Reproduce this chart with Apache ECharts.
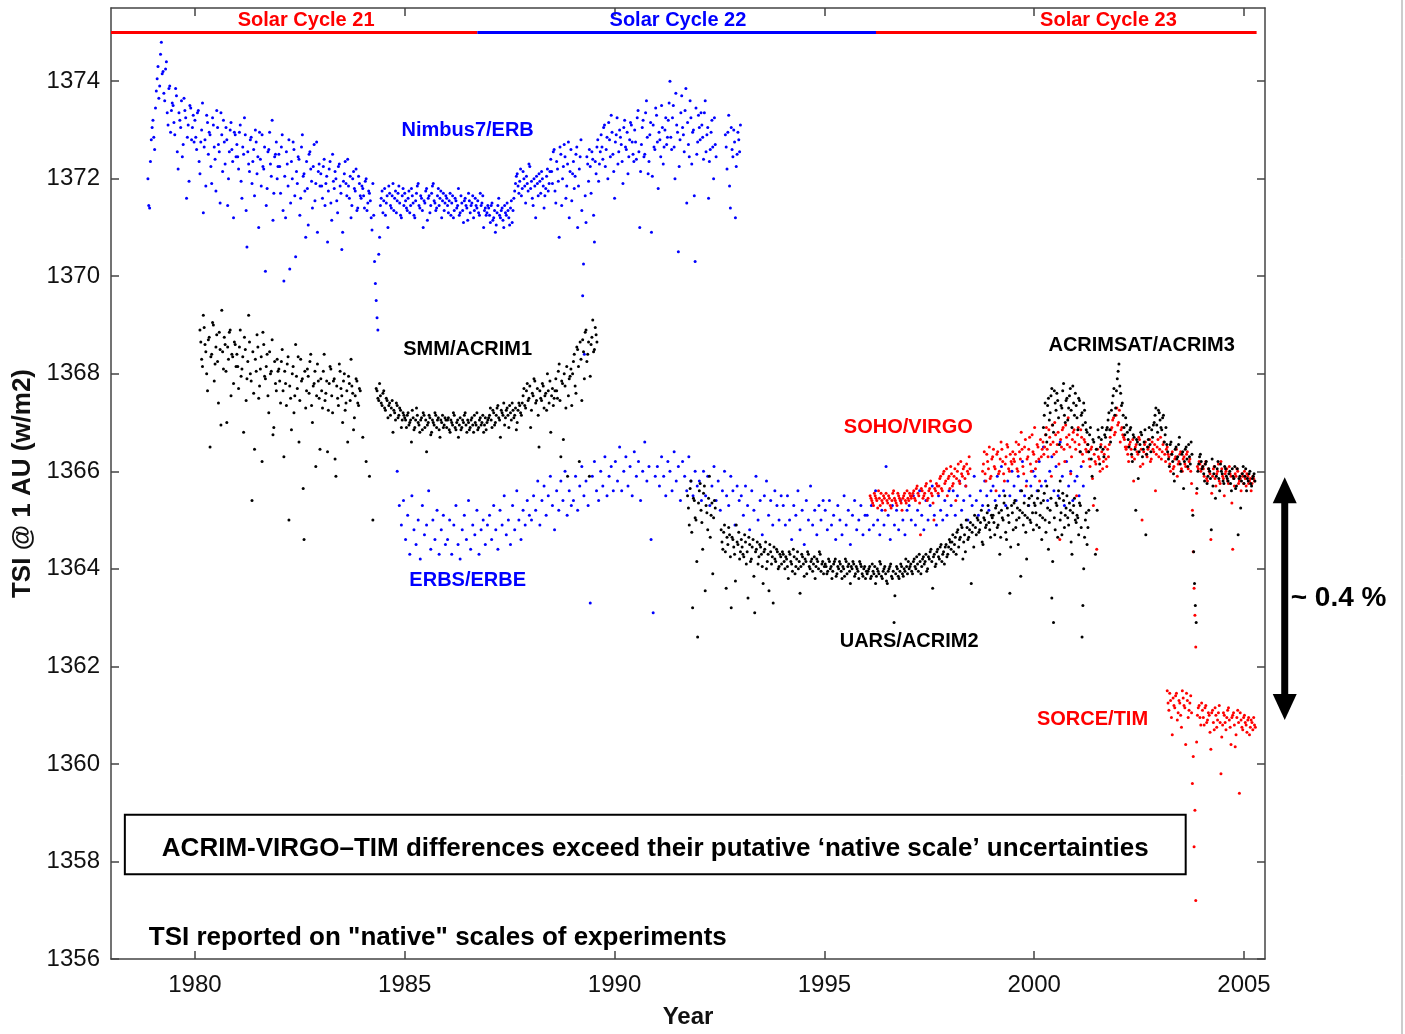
<!DOCTYPE html>
<html>
<head>
<meta charset="utf-8">
<title>TSI reported on native scales</title>
<script src="https://cdn.jsdelivr.net/npm/echarts@6/dist/echarts.min.js"></script>
<style>
  html, body { margin: 0; padding: 0; background: #fff; }
  #chart { width: 1405px; height: 1034px; }
</style>
</head>
<body>
<div id="chart"></div>
<script>
// axis ticks
const yearTicks = [1980, 1985, 1990, 1995, 2000, 2005];
const tsiTicks = [1356, 1358, 1360, 1362, 1364, 1366, 1368, 1370, 1372, 1374];

// every record: first sample year, sample step in years, readings in W/m2 (null = no data).
// the *Mid arrays are the readings taken half a step after each main reading.
const nimbusStart = 1978.88, nimbusStep = 0.04;
const nimbus = [
  1372.0, 1371.4, 1372.8,
  1373.2, 1372.6, 1373.8, 1374.3, 1373.9, 1374.8, 1374.2, 1373.6, 1374.4, 1373.1, 1373.9, 1373.4,
  1373.5, 1372.9, 1373.7, 1372.2, 1373.2, 1373.6, 1372.7, 1373.4, 1371.6, 1373.1, 1373.5, 1372.8, 1373.3,
  1373.2, 1372.6, 1373.4, 1372.1, 1373.0, 1371.3, 1372.8, 1373.3, 1372.5, 1372.9, 1371.9, 1373.1, 1372.4, 1373.4, 1372.7, 1371.5, 1372.9, 1373.2, 1372.3, 1372.8, 1372.0, 1373.0, 1372.6, 1371.2, 1372.9,
  1372.7, 1372.2, 1373.1, 1371.6, 1372.5, 1372.9, 1370.6, 1372.3, 1372.8, 1371.9, 1372.6, 1373.0, 1372.1, 1371.0, 1372.4, 1372.9, 1372.2, 1370.1, 1371.8, 1372.6, 1372.3, 1373.2, 1371.7, 1372.5, 1372.0,
  1372.5, 1371.7, 1372.9, 1369.9, 1371.2, 1372.3, 1372.8, 1371.5, 1372.0, 1372.6, 1370.4, 1371.9, 1372.4, 1371.6, 1372.9, 1372.1, 1370.8, 1371.8, 1372.5, 1372.2, 1371.4, 1372.7, 1371.9, 1370.9, 1372.3,
  1372.1, 1371.6, 1372.4, 1371.9, 1370.7, 1372.2, 1371.5, 1372.5, 1371.8, 1372.0, 1371.3, 1372.3, 1371.7, 1370.9, 1372.1, 1371.9, 1372.4, 1371.6, 1371.2, 1372.0, 1371.8, 1372.2, 1371.4, 1371.9, 1371.6,
  1371.8, 1371.4, 1372.0, 1371.5, 1371.7, 1371.2, 1371.9, 1370.3, 1369.5, 1368.9, 1370.8, 1371.6, 1371.3, 1371.8, 1371.5, 1371.0, 1371.7, 1371.4, 1371.9, 1371.6, 1371.3, 1371.7, 1371.5, 1371.2, 1371.8,
  1371.7, 1371.4, 1371.6, 1371.3, 1371.8, 1371.5, 1371.2, 1371.7, 1371.9, 1371.4, 1371.6, 1371.0, 1371.5, 1371.8, 1371.6, 1371.3, 1371.7, 1371.9, 1371.5, 1371.4, 1371.8, 1371.6, 1371.2, 1371.7, 1371.5,
  1371.6, 1371.3, 1371.7, 1371.5, 1371.2, 1371.6, 1371.4, 1371.8, 1371.3, 1371.5, 1371.1, 1371.6, 1371.4, 1371.7, 1371.3, 1371.5, 1371.2, 1371.6, 1371.4, 1371.3, 1371.7, 1371.5, 1371.0, 1371.4, 1371.3,
  1371.4, 1371.1, 1371.5, 1371.2, 1370.9, 1371.3, 1371.6, 1371.2, 1371.4, 1371.0, 1371.3, 1371.5, 1371.2, 1371.4, 1371.1,
  1371.6, 1371.9, 1372.1, 1371.7, 1372.2, 1371.8, 1372.0, 1371.5, 1371.9, 1372.3, 1371.8, 1371.6, 1372.0, 1371.2, 1371.9, 1372.1, 1371.7, 1372.0, 1371.4, 1371.8, 1372.2, 1371.9,
  1372.4, 1371.9, 1372.6, 1371.5, 1372.2, 1370.8, 1372.5, 1372.0, 1372.7, 1371.6, 1372.3, 1371.2, 1372.6, 1372.1, 1371.8, 1372.5, 1371.0, 1372.2, 1372.8, 1369.6, 1368.4, 1371.1, 1372.3, 1372.6, 1371.7, 1372.4, 1370.7, 1372.1, 1372.8, 1372.3,
  1372.9, 1372.4, 1373.1, 1372.6, 1372.0, 1372.8, 1373.3, 1372.5, 1371.6, 1372.9, 1372.3, 1373.0, 1372.7, 1371.9, 1373.2, 1372.6, 1372.1, 1372.8, 1373.1, 1372.5,
  1373.0, 1372.4, 1373.4, 1371.0, 1372.7, 1373.2, 1372.5, 1373.6, 1372.1, 1372.9, 1370.9, 1373.1, 1372.6, 1373.3, 1371.8, 1372.8, 1373.5, 1372.3, 1373.0, 1372.7,
  1373.2, 1374.0, 1372.6, 1373.5, 1372.0, 1373.1, 1370.5, 1372.8, 1373.7, 1372.9, 1373.4, 1371.5, 1372.7, 1373.6, 1372.3, 1373.0, 1370.3, 1372.5, 1373.3, 1372.8,
  1373.1, 1372.4, 1373.6, 1372.9, 1371.6, 1372.6, 1373.2, 1372.0, 1372.7,
  null, null, null, null, null,
  1372.9, 1372.2, 1373.3, 1371.4, 1372.6, 1373.0, 1371.2, 1372.5, 1372.8, 1373.1
];
const nimbusMid = [
  1371.45, 1372.35, 1373.05,
  1372.85, 1373.45, 1374.05, 1373.65, 1374.55, 1374.15, 1373.75, 1374.25, 1373.35, 1373.85, 1372.95, 1373.55,
  1373.15, 1373.85, 1372.55, 1373.35, 1373.05, 1372.45, 1373.65, 1373.25, 1372.85, 1371.95, 1373.45, 1373.05, 1372.75,
  1372.85, 1373.35, 1372.35, 1372.75, 1373.55, 1372.65, 1371.85, 1373.15, 1372.95, 1372.25, 1373.25, 1372.65, 1371.75, 1373.05, 1372.55, 1373.35, 1372.15, 1372.75, 1373.05, 1371.45, 1372.55, 1373.15, 1372.35, 1372.95, 1372.45,
  1372.45, 1372.95, 1371.95, 1372.65, 1373.25, 1371.35, 1372.55, 1372.15, 1372.85, 1372.35, 1371.65, 1372.75, 1372.45, 1372.95, 1371.85, 1372.25, 1372.65, 1371.45, 1372.55, 1372.95, 1372.05, 1371.15, 1372.45, 1372.75, 1372.25,
  1372.25, 1372.65, 1371.35, 1372.05, 1372.55, 1371.85, 1370.15, 1372.35, 1372.75, 1371.65, 1372.15, 1372.45, 1371.25, 1372.65, 1372.05, 1371.75, 1372.35, 1371.05, 1372.55, 1371.95, 1372.25, 1371.55, 1372.75, 1372.15, 1371.85,
  1371.85, 1372.25, 1371.45, 1372.05, 1371.75, 1372.35, 1371.15, 1371.95, 1372.15, 1371.55, 1372.25, 1371.85, 1370.55, 1371.95, 1372.35, 1371.65, 1371.85, 1372.05, 1371.45, 1372.15, 1371.75, 1371.35, 1372.05, 1371.65, 1371.85,
  1371.65, 1371.95, 1371.35, 1371.75, 1371.55, 1370.95, 1371.25, 1369.85, 1369.15, 1370.45, 1371.45, 1371.75, 1371.55, 1371.25, 1371.65, 1371.85, 1371.45, 1371.65, 1371.35, 1371.75, 1371.55, 1371.85, 1371.25, 1371.65, 1371.45,
  1371.55, 1371.35, 1371.75, 1371.45, 1371.65, 1371.25, 1371.55, 1371.85, 1371.45, 1371.65, 1371.35, 1371.55, 1371.75, 1371.15, 1371.65, 1371.45, 1371.85, 1371.55, 1371.35, 1371.65, 1371.45, 1371.75, 1371.55, 1371.35, 1371.65,
  1371.45, 1371.55, 1371.25, 1371.65, 1371.35, 1371.55, 1371.45, 1371.25, 1371.65, 1371.35, 1371.55, 1371.45, 1371.15, 1371.55, 1371.45, 1371.65, 1371.35, 1371.45, 1371.55, 1371.25, 1371.45, 1371.65, 1371.35, 1371.25, 1371.45,
  1371.25, 1371.45, 1371.15, 1371.35, 1371.05, 1371.45, 1371.25, 1371.35, 1371.15, 1371.45, 1371.25, 1371.35, 1371.05, 1371.55, 1371.35,
  1371.75, 1372.05, 1371.85, 1371.95, 1371.65, 1372.15, 1371.85, 1372.05, 1371.75, 1372.25, 1371.95, 1371.45, 1371.85, 1372.05, 1371.65, 1371.95, 1372.15, 1371.85, 1371.65, 1372.05, 1371.75, 1372.15,
  1372.15, 1372.55, 1371.75, 1372.35, 1371.95, 1372.65, 1371.45, 1372.25, 1372.45, 1371.85, 1372.75, 1372.15, 1371.55, 1372.35, 1372.05, 1372.65, 1371.85, 1372.45, 1371.35, 1370.25, 1371.65, 1372.45, 1371.95, 1372.25, 1372.55, 1371.25, 1372.35, 1372.65, 1371.95, 1372.55,
  1372.65, 1373.05, 1372.25, 1372.85, 1373.15, 1372.45, 1372.95, 1372.15, 1372.75, 1373.25, 1372.55, 1372.85, 1372.35, 1373.05, 1372.65, 1372.95, 1372.45, 1373.15, 1372.75, 1372.35,
  1372.75, 1373.25, 1372.55, 1372.15, 1373.05, 1372.45, 1373.35, 1372.85, 1372.35, 1373.15, 1372.05, 1372.65, 1373.45, 1372.75, 1372.95, 1372.45, 1373.05, 1372.65, 1373.25, 1372.85,
  1373.55, 1372.85, 1373.25, 1372.65, 1373.75, 1372.95, 1372.25, 1373.35, 1373.05, 1372.55, 1373.85, 1373.15, 1372.45, 1373.25, 1372.95, 1371.65, 1373.45, 1372.75, 1373.05, 1373.35,
  1372.85, 1373.35, 1372.55, 1373.05, 1372.35, 1372.95, 1372.65, 1373.25, 1372.45,
  null, null, null, null, null,
  1372.65, 1372.95, 1371.85, 1373.05, 1372.45, 1372.75, 1372.25, 1372.95, 1372.55, null
];

const erbsStart = 1984.82, erbsStep = 0.05;
const erbs = [
  1366.0, 1365.3, 1364.9, 1365.4, 1364.6, 1365.1, 1364.3, 1365.5, 1364.8, 1364.5, 1365.0, 1364.2, 1365.3, 1364.7, 1364.9, 1365.6, 1364.4, 1365.0, 1364.6, 1365.2, 1364.3, 1364.8, 1365.1, 1364.5,
  1364.6, 1365.0, 1364.3, 1364.9, 1365.3, 1364.5, 1364.2, 1364.8, 1365.1, 1364.6, 1365.4, 1364.4, 1364.9, 1364.7, 1365.2, 1364.3, 1364.8, 1365.0, 1364.5, 1364.9,
  1365.1, 1364.6, 1365.3, 1364.8, 1364.4, 1365.2, 1364.9, 1365.5, 1364.7, 1365.0, 1364.5, 1365.3, 1364.8, 1365.6, 1365.0, 1364.6, 1365.2, 1364.9, 1365.4, 1365.1,
  1365.0, 1365.5, 1365.2, 1365.8, 1364.9, 1365.4, 1365.7, 1365.1, 1365.5, 1365.9, 1365.3, 1364.8, 1365.6, 1365.2, 1365.8, 1365.4, 1366.0, 1365.1, 1365.6, 1365.3,
  1365.4, 1365.9, 1365.2, 1365.7, 1366.1, 1365.5, 1365.8, 1365.3, 1363.3, 1365.9, 1366.2, 1365.6, 1365.4, 1366.0, 1365.7, 1366.3, 1365.5, 1365.9, 1366.1, 1365.6,
  1366.2, 1365.8, 1366.5, 1365.6, 1366.0, 1366.3, 1365.7, 1366.1, 1365.5, 1366.4, 1365.9, 1366.2, 1365.4, 1366.0, 1366.6, 1365.8, 1366.1, 1364.6, 1363.1, 1365.9,
  1366.1, 1365.7, 1366.3, 1365.9, 1365.5, 1366.2, 1366.0, 1365.6, 1366.4, 1365.8, 1366.1, 1365.4, 1366.2, 1365.9, 1365.6, 1366.3, 1365.8, 1365.5, 1366.0, 1365.7,
  1365.8, 1365.4, 1366.0, 1365.5, 1365.9, 1365.3, 1365.7, 1366.1, 1365.4, 1365.8, 1365.2, 1365.6, 1366.0, 1365.5, 1365.3, 1365.9, 1365.6, 1364.9, 1365.7, 1365.4,
  1365.5, 1365.1, 1365.7, 1365.3, 1364.8, 1365.6, 1365.2, 1365.9, 1365.0, 1365.4, 1364.7, 1365.5, 1365.8, 1365.1, 1365.4, 1364.9, 1365.6, 1365.3, 1365.0, 1365.5,
  1365.3, 1364.9, 1365.5, 1365.0, 1364.6, 1365.3, 1365.1, 1365.6, 1364.8, 1365.2, 1364.5, 1365.4, 1365.0, 1365.7, 1364.9, 1365.2, 1364.7, 1365.3, 1365.0, 1365.4,
  1365.2, 1364.8, 1365.4, 1364.9, 1365.1, 1364.6, 1365.3, 1365.0, 1364.7, 1365.5, 1364.9, 1365.2, 1364.5, 1365.1, 1365.4, 1364.8, 1365.0, 1365.3, 1364.7, 1365.1,
  1365.1, 1364.8, 1365.3, 1364.9, 1365.6, 1365.0, 1364.7, 1365.2, 1364.9, 1366.1, 1365.1, 1364.6, 1365.3, 1364.9, 1365.2, 1364.8, 1365.4, 1365.0, 1364.7, 1365.2,
  1365.3, 1365.0, 1365.5, 1364.9, 1365.2, 1365.6, 1365.1, 1364.8, 1365.4, 1365.0, 1365.3, 1365.7, 1365.1, 1364.9, 1365.5, 1365.2, 1365.0, 1365.4, 1365.1, 1365.6,
  1365.3, 1365.6, 1365.1, 1365.5, 1365.8, 1365.2, 1365.4, 1365.7, 1365.0, 1365.5, 1365.3, 1365.9, 1365.4, 1365.1, 1365.6, 1365.3, 1365.8, 1365.5, 1365.2, 1365.6,
  1365.7, 1365.4, 1365.9, 1365.5, 1366.1, 1365.6, 1365.3, 1365.8, 1365.5, 1366.0, 1365.7, 1365.4, 1365.9, 1365.6, 1366.2, 1365.5, 1365.8, 1365.3, 1365.7, 1366.0,
  1365.9, 1365.6, 1366.2, 1365.7, 1366.5, 1365.8, 1365.4, 1366.0, 1366.3, 1365.6, 1366.1, 1365.5, 1366.6, 1365.9, 1365.3, 1366.2, 1365.7, 1366.0, 1365.4, 1365.8,
  1365.9, 1365.5, 1366.1, 1365.7
];

const acrim1Start = 1980.12, acrim1Step = 0.04;
const acrim1 = [
  1368.9, 1368.3, 1369.2, 1368.6, 1368.0, 1368.7, 1366.5, 1368.4, 1369.0, 1368.2, 1368.8, 1367.4, 1368.5, 1369.3, 1368.1, 1368.6, 1367.0, 1368.3, 1368.9, 1368.4, 1367.8, 1368.6,
  1368.4, 1367.7, 1368.9, 1368.1, 1366.8, 1368.5, 1367.9, 1369.2, 1368.0, 1365.4, 1367.6, 1368.3, 1368.8, 1367.5, 1368.1, 1366.2, 1368.6, 1367.9, 1368.4, 1367.2, 1368.0, 1368.7, 1366.9, 1367.8, 1368.3,
  1368.1, 1367.4, 1368.5, 1366.3, 1367.8, 1368.2, 1365.0, 1367.5, 1368.0, 1367.2, 1368.6, 1367.7, 1366.6, 1368.3, 1367.9, 1364.6, 1367.3, 1368.1, 1367.6, 1368.4, 1367.0, 1367.8, 1366.1, 1368.2, 1367.5,
  1367.9, 1367.3, 1368.4, 1367.6, 1366.4, 1367.8, 1368.1, 1367.2, 1367.9, 1365.9, 1367.5, 1368.2, 1367.7, 1367.0, 1368.0, 1367.4, 1366.6, 1367.8, 1368.3, 1367.6, 1367.1, 1367.9, 1367.4, 1367.7,
  null, 1366.7, null, 1366.2, null, 1365.9, null, 1365.0, null,
  1367.7, 1367.5, 1367.8, 1367.4, 1367.6, 1367.3, 1367.5, 1367.1, 1367.4, 1367.3, 1366.8, 1367.2, 1367.4, 1367.1, 1367.3, 1366.9, 1367.2,
  1367.1, 1366.9, 1367.2, 1367.0, 1366.6, 1367.1, 1366.9, 1367.3, 1367.0, 1366.8, 1367.1, 1367.2, 1366.9, 1366.4, 1367.0, 1367.1, 1366.8, 1367.0, 1367.2, 1366.9, 1367.1, 1366.7, 1367.0, 1366.9, 1367.1,
  1366.9, 1367.1, 1366.8, 1367.0, 1367.2, 1366.9, 1367.0, 1366.7, 1367.1, 1366.9, 1367.0, 1367.2, 1366.8, 1367.0, 1366.9, 1367.1, 1366.8, 1367.0, 1367.2, 1366.9, 1367.1, 1367.0, 1366.8, 1367.1, 1367.0,
  1367.1, 1367.3, 1366.9, 1367.2, 1367.0, 1367.3, 1367.1, 1366.7, 1367.2, 1367.4, 1367.1, 1367.3, 1366.9, 1367.2, 1367.4, 1367.1, 1367.3, 1367.0, 1367.4, 1367.2,
  1367.4, 1367.7, 1367.3, 1367.8, 1367.5, 1366.9, 1367.6, 1367.9, 1367.4, 1367.7, 1366.5, 1367.5, 1367.8, 1367.3, 1367.6, 1368.0, 1367.4, 1366.8, 1367.7, 1367.5,
  1367.9, 1367.5, 1368.2, 1366.3, 1367.8, 1368.0, 1367.3, 1365.9, 1367.9, 1368.1,
  1368.0, 1368.4, 1367.6, 1368.5, 1366.2, 1368.3, 1368.7, 1367.9, 1368.9, 1368.4, 1365.9, 1368.6, 1369.1, 1368.5, 1368.8
];
const acrim1Mid = [
  1368.65, 1368.15, 1368.95, 1368.45, 1367.65, 1368.75, 1368.35, 1369.05, 1367.85, 1368.55, 1368.25, 1368.85, 1366.95, 1368.45, 1368.75, 1368.05, 1368.55, 1368.85, 1367.55, 1368.35, 1368.65, 1368.15,
  1368.15, 1368.55, 1367.95, 1368.35, 1368.75, 1367.45, 1368.25, 1368.65, 1367.85, 1368.45, 1366.45, 1368.05, 1368.55, 1367.75, 1368.35, 1368.85, 1367.95, 1368.15, 1367.55, 1368.45, 1368.05, 1366.75, 1368.25, 1367.65, 1368.05,
  1367.85, 1368.25, 1367.65, 1368.05, 1367.35, 1368.35, 1367.75, 1366.85, 1368.15, 1367.55, 1367.95, 1368.35, 1367.45, 1367.85, 1365.65, 1368.05, 1367.65, 1367.95, 1368.25, 1367.35, 1367.75, 1368.05, 1367.55, 1367.85, 1366.45,
  1367.65, 1368.05, 1367.45, 1367.85, 1367.25, 1368.15, 1367.55, 1367.85, 1366.25, 1367.75, 1367.35, 1368.05, 1367.55, 1367.85, 1367.25, 1367.65, 1367.95, 1367.45, 1367.75, 1366.85, 1367.55, 1367.85, 1367.35, 1367.65,
  null, null, null, null, null, null, null, null, null,
  1367.65, 1367.45, 1367.55, 1367.35, 1367.65, 1367.25, 1367.45, 1367.35, 1367.15, 1367.45, 1367.25, 1367.05, 1367.35, 1367.15, 1367.25, 1367.05, 1367.15,
  1367.05, 1367.15, 1366.95, 1367.05, 1367.25, 1366.85, 1367.05, 1367.15, 1366.95, 1367.05, 1366.85, 1367.15, 1367.05, 1366.95, 1367.15, 1366.75, 1367.05, 1366.95, 1367.15, 1367.05, 1366.85, 1367.05, 1367.15, 1366.95, 1367.05,
  1367.05, 1366.85, 1367.05, 1366.95, 1367.15, 1366.85, 1367.05, 1366.95, 1366.85, 1367.05, 1367.15, 1366.95, 1367.05, 1366.85, 1367.05, 1366.95, 1367.15, 1366.95, 1366.85, 1367.05, 1366.95, 1367.15, 1366.95, 1366.85, 1367.05,
  1367.15, 1367.05, 1367.25, 1366.95, 1367.15, 1367.35, 1367.05, 1367.25, 1367.15, 1366.95, 1367.25, 1367.15, 1367.35, 1367.05, 1367.25, 1367.15, 1366.85, 1367.25, 1367.35, 1367.15,
  1367.55, 1367.35, 1367.65, 1367.45, 1367.75, 1367.25, 1367.55, 1367.85, 1367.45, 1367.15, 1367.65, 1367.45, 1367.75, 1367.55, 1367.25, 1367.65, 1367.85, 1367.55, 1367.35, 1367.65,
  1367.65, 1368.05, 1367.45, 1367.85, 1366.65, 1367.75, 1368.15, 1367.55, 1367.95, 1367.35,
  1368.25, 1367.75, 1368.55, 1368.15, 1368.65, 1367.45, 1368.45, 1368.85, 1368.25, 1368.65, 1367.95, 1368.75, 1368.45, 1368.95, 1368.65
];

const acrim2Start = 1991.74, acrim2Step = 0.04;
const acrim2 = [
  1365.5, 1364.9, 1365.8, 1363.2, 1365.4, 1365.0, 1362.6, 1365.6, 1365.2, 1364.4, 1365.7, 1365.3, 1364.8, 1365.9, 1365.1, 1363.9, 1365.4,
  null, null, null,
  1364.8, 1364.4, 1364.9, 1363.6, 1364.5, 1364.7, 1363.2, 1364.6, 1364.3, 1364.9, 1364.5, 1364.2,
  1364.6, 1364.3, 1364.7, 1364.1, 1363.4, 1364.5, 1364.2, 1364.6, 1363.1, 1364.4, 1364.1, 1364.5, 1364.3, 1363.7, 1364.4, 1364.0, 1364.3, 1364.5, 1364.1, 1363.3, 1364.2, 1364.4, 1364.0, 1364.3, 1364.1,
  1364.3, 1364.0, 1364.2, 1363.8, 1364.3, 1364.1, 1364.4, 1363.9, 1364.2, 1364.0, 1363.5, 1364.3, 1364.1, 1364.2, 1363.9, 1364.3, 1364.0, 1364.2, 1364.1, 1363.8, 1364.2, 1364.0, 1364.3, 1364.1, 1363.9,
  1364.1, 1363.9, 1364.2, 1364.0, 1363.8, 1364.1, 1364.2, 1363.9, 1364.0, 1364.1, 1363.8, 1364.0, 1364.2, 1363.9, 1364.1, 1363.7, 1364.0, 1364.1, 1363.9, 1364.0, 1363.8, 1364.1, 1363.9, 1364.0, 1363.8,
  1363.9, 1364.0, 1363.8, 1364.1, 1363.9, 1363.7, 1364.0, 1363.9, 1364.1, 1363.8, 1364.0, 1363.9, 1363.7, 1364.0, 1364.1, 1363.8, 1362.9, 1363.9, 1364.0, 1363.8, 1364.1, 1363.9, 1364.0, 1364.2, 1363.9,
  1364.0, 1364.1, 1363.9, 1364.2, 1364.0, 1364.1, 1364.3, 1363.9, 1364.2, 1364.1, 1364.3, 1364.0, 1364.2, 1364.4, 1363.6, 1364.3, 1364.1, 1364.4, 1364.2, 1364.5, 1364.3, 1364.1, 1364.5, 1364.3, 1364.6,
  1364.4, 1364.7, 1364.5, 1364.3, 1364.8, 1364.6, 1364.9, 1364.2, 1364.7, 1365.0, 1364.6, 1364.8, 1363.7, 1364.9, 1365.1, 1364.7, 1365.0, 1364.8, 1365.2, 1364.5, 1365.0, 1364.9, 1365.3, 1364.8, 1365.1,
  1365.1, 1364.7, 1365.3, 1364.9, 1364.3, 1365.2, 1365.0, 1365.5, 1364.6, 1365.1, 1363.5, 1365.3, 1364.8, 1365.4, 1365.0, 1364.5, 1365.2, 1365.6, 1364.9, 1365.1, 1364.2, 1365.3, 1365.0, 1365.5, 1364.8,
  1365.3, 1364.9, 1365.6, 1365.1, 1364.6, 1365.4, 1365.0, 1365.7, 1364.4, 1365.2, 1363.4, 1362.9, 1364.8, 1365.3, 1365.6, 1365.0, 1364.7, 1365.4, 1365.1, 1365.5, 1364.9, 1365.2, 1364.3, 1365.3, 1365.0,
  1365.1, 1364.7, 1365.3, 1362.6, 1364.0, 1365.0, 1364.5, 1365.2
];
const acrim2Mid = [
  1365.25, 1365.65, 1364.75, 1365.45, 1365.05, 1364.15, 1365.35, 1365.75, 1364.95, 1365.55, 1363.55, 1365.15, 1365.45, 1364.65, 1365.35, 1365.05, 1365.25,
  null, null, null,
  1364.55, 1364.75, 1364.35, 1364.65, 1364.85, 1364.25, 1364.65, 1364.45, 1363.75, 1364.55, 1364.75, 1364.35,
  1364.45, 1364.25, 1364.55, 1364.35, 1364.65, 1364.15, 1364.45, 1363.85, 1364.35, 1364.55, 1364.25, 1364.45, 1364.05, 1364.35, 1364.55, 1364.15, 1363.55, 1364.35, 1364.25, 1364.45, 1364.15, 1364.35, 1364.05, 1364.25, 1364.35,
  1364.15, 1364.25, 1364.05, 1364.35, 1364.15, 1363.95, 1364.25, 1364.05, 1364.35, 1364.15, 1364.05, 1364.25, 1363.85, 1364.15, 1364.35, 1364.05, 1364.15, 1363.95, 1364.25, 1364.05, 1364.15, 1364.35, 1363.95, 1364.15, 1364.05,
  1364.05, 1363.95, 1364.15, 1364.05, 1363.95, 1364.15, 1363.85, 1364.05, 1364.15, 1363.95, 1364.05, 1363.85, 1364.15, 1364.05, 1363.95, 1364.05, 1364.15, 1363.85, 1364.05, 1363.95, 1364.15, 1364.05, 1363.85, 1364.05, 1363.95,
  1363.95, 1364.05, 1363.85, 1363.95, 1364.05, 1363.85, 1363.95, 1364.15, 1363.85, 1363.95, 1364.05, 1363.75, 1363.95, 1364.05, 1363.85, 1363.95, 1363.45, 1364.05, 1363.85, 1363.95, 1364.05, 1363.85, 1363.95, 1364.05, 1364.15,
  1364.05, 1363.95, 1364.15, 1364.05, 1364.25, 1363.95, 1364.15, 1364.05, 1364.25, 1364.15, 1363.95, 1364.25, 1364.35, 1364.15, 1364.25, 1364.05, 1364.35, 1364.25, 1364.45, 1364.15, 1364.35, 1364.45, 1364.25, 1364.45, 1364.55,
  1364.55, 1364.35, 1364.65, 1364.75, 1364.45, 1364.65, 1364.85, 1364.55, 1364.35, 1364.85, 1364.65, 1364.95, 1364.75, 1364.45, 1364.85, 1365.05, 1364.75, 1364.95, 1364.55, 1365.05, 1364.85, 1365.15, 1364.95, 1364.65, 1365.05,
  1364.95, 1365.25, 1364.85, 1365.15, 1364.65, 1365.05, 1365.35, 1364.75, 1365.25, 1364.95, 1364.45, 1365.15, 1365.35, 1364.85, 1365.25, 1365.05, 1363.85, 1365.15, 1365.35, 1364.75, 1365.05, 1365.45, 1364.95, 1365.15, 1365.35,
  1365.15, 1365.45, 1364.85, 1365.35, 1365.05, 1365.55, 1364.75, 1365.25, 1364.95, 1365.45, 1364.15, 1365.05, 1365.35, 1364.65, 1365.45, 1365.15, 1365.55, 1364.85, 1365.25, 1365.05, 1365.35, 1364.55, 1365.15, 1365.45, 1364.95,
  1365.05, 1365.35, 1364.85, 1363.25, 1364.65, 1365.15, 1364.85, null
];

const acrim3Start = 2000.22, acrim3Step = 0.04;
const acrim3 = [
  1366.9, 1367.4, 1366.6, 1367.5, 1367.2, 1367.7, 1366.8, 1367.4, 1367.6, 1367.1, 1365.8, 1367.3, 1367.8, 1367.0, 1367.5, 1367.3, 1367.7, 1366.9, 1367.4, 1367.6, 1367.1, 1367.5, 1366.4, 1367.2, 1367.4, 1367.0,
  1366.8, 1366.4, 1366.9, 1365.9, 1366.6, 1364.3, 1365.2, 1366.7, 1366.5, 1366.9, 1366.3, 1366.7,
  1366.9, 1367.2, 1366.6, 1367.4, 1367.7, 1367.3, 1367.9, 1368.2, 1367.6, 1367.4, 1366.9, 1367.1,
  1366.8, 1366.5, 1366.9, 1366.2, 1366.7, 1365.2, 1366.6, 1366.4, 1366.8, 1366.3, 1366.6, 1364.7, 1366.5, 1366.9, 1366.4, 1366.7,
  1367.0, 1367.3, 1366.8, 1367.2, 1366.9, 1367.1, 1366.6, 1366.9,
  1366.4, 1366.1, 1366.6, 1366.2, 1365.8, 1366.5, 1366.3, 1366.7, 1366.0, 1366.4, 1366.2, 1366.5, 1366.1, 1366.3, 1366.6, 1365.1, 1363.7, 1362.9, 1366.0, 1366.3, 1366.2,
  1366.1, 1365.8, 1366.2, 1365.9, 1366.0, 1364.8, 1365.7, 1366.1, 1365.9, 1366.2, 1365.6, 1366.0, 1365.8, 1366.1, 1365.9,
  1365.8, 1366.0, 1365.6, 1365.9, 1366.1, 1365.7, 1364.7, 1365.9, 1365.8, 1366.1, 1365.9, 1365.6, 1365.8, 1366.0, 1365.7, 1365.9, 1365.8
];
const acrim3Mid = [
  1367.15, 1366.75, 1367.35, 1367.05, 1367.55, 1366.95, 1367.65, 1367.25, 1367.45, 1366.55, 1367.35, 1367.65, 1367.15, 1367.45, 1367.05, 1367.55, 1367.25, 1367.75, 1367.15, 1367.35, 1366.85, 1367.45, 1367.15, 1366.95, 1367.25, 1366.85,
  1366.55, 1366.75, 1366.25, 1366.65, 1365.45, 1366.45, 1366.85, 1366.15, 1366.65, 1366.45, 1366.75, 1366.85,
  1367.05, 1366.85, 1367.25, 1367.55, 1367.15, 1367.65, 1368.05, 1367.75, 1367.35, 1367.15, 1366.75, 1366.95,
  1366.65, 1366.85, 1366.35, 1366.75, 1366.45, 1366.65, 1365.85, 1366.55, 1366.75, 1366.45, 1366.85, 1366.35, 1366.65, 1366.55, 1366.85, 1366.95,
  1367.15, 1366.95, 1367.25, 1367.05, 1366.85, 1367.15, 1366.75, 1366.55,
  1366.25, 1366.55, 1366.35, 1365.95, 1366.45, 1366.25, 1366.55, 1366.15, 1366.35, 1365.65, 1366.45, 1366.25, 1366.55, 1366.15, 1366.35, 1364.35, 1363.25, 1365.65, 1366.15, 1366.35, 1366.05,
  1365.95, 1366.15, 1365.75, 1366.05, 1365.85, 1366.25, 1365.95, 1365.45, 1366.05, 1365.85, 1366.15, 1365.95, 1365.75, 1366.05, 1365.85,
  1365.95, 1365.75, 1366.05, 1365.85, 1365.65, 1366.05, 1365.85, 1365.25, 1365.95, 1365.75, 1366.05, 1365.85, 1365.95, 1365.75, 1365.85, 1365.95, null
];

const virgoStart = 1996.09, virgoStep = 0.04;
const virgo = [
  1365.5, 1365.4, 1365.3, 1365.5, 1365.4, 1365.6, 1365.3, 1365.4, 1365.5, 1365.2, 1365.4, 1365.5, 1365.3, 1365.4, 1365.6, 1365.4, 1365.3, 1365.5, 1365.4, 1365.2, 1365.5, 1365.4, 1365.6, 1365.4, 1365.5,
  1365.5, 1365.6, 1365.4, 1365.7, 1365.5, 1364.7, 1365.6, 1365.5, 1365.7, 1365.4, 1365.6, 1365.8, 1365.5, 1365.0, 1365.6, 1365.7,
  1365.7, 1365.9, 1365.6, 1366.0, 1365.8, 1365.5, 1365.9, 1366.1, 1365.7, 1365.9, 1365.4, 1366.0, 1365.8, 1366.2, 1365.9, 1366.1, 1365.7, 1366.0, 1366.3,
  null, null, null, null, null, null, null,
  1366.0, 1366.4, 1365.8, 1366.2, 1366.5, 1365.9, 1366.3, 1366.1, 1365.6, 1366.4, 1366.0, 1366.6, 1366.2, 1365.8, 1366.3, 1366.5, 1366.0, 1366.2, 1366.4,
  1366.2, 1366.6, 1366.0, 1366.4, 1366.8, 1366.1, 1366.5, 1365.7, 1366.3, 1366.7, 1366.0, 1366.4, 1366.9, 1366.2, 1366.5, 1365.8, 1366.3, 1366.6,
  1366.5, 1366.9, 1366.3, 1366.7, 1365.9, 1366.6, 1367.0, 1366.4, 1366.8, 1364.6, 1366.5, 1366.9, 1366.2, 1366.7, 1367.1, 1366.5, 1366.3, 1366.8, 1366.6, 1365.5, 1366.9, 1366.4, 1366.7, 1366.2, 1366.6, 1366.4,
  1366.4, 1366.1, 1366.5, 1365.3, 1366.2, 1364.4, 1366.3, 1366.0, 1366.4, 1366.2, 1366.5, 1366.1, 1366.3,
  1366.7, 1366.9, 1367.1, 1366.8, 1367.3, 1367.0, 1366.6, 1366.9, 1366.7, 1366.5,
  1366.5, 1366.2, 1366.6, 1366.3, 1365.8, 1366.5, 1366.4, 1366.7, 1366.1, 1365.0, 1366.4, 1366.6, 1366.3, 1366.5, 1366.2, 1366.6, 1366.4, 1365.6, 1366.5, 1366.3, 1366.7, 1366.4, 1366.6, 1366.2, 1366.5,
  1366.3, 1366.0, 1366.4, 1366.1, 1366.3, 1365.9, 1366.2, 1366.4, 1366.0, 1366.3, 1366.1, 1366.4, 1366.2, 1366.0, 1365.2, 1363.6, 1362.4, 1366.1, 1366.2, 1366.0,
  1366.1, 1365.9, 1366.2, 1365.8, 1366.0, 1364.6, 1365.9, 1366.1, 1365.7, 1366.0, 1365.8, 1366.2, 1365.9, 1365.5, 1366.0, 1365.8, 1366.1, 1365.9, 1364.4, 1365.7, 1365.9, 1366.0, 1365.8, 1365.6, 1365.9, 1366.0, 1365.7, 1365.9, 1365.8, 1365.6, 1365.9, 1365.8
];
const virgoMid = [
  1365.45, 1365.35, 1365.55, 1365.45, 1365.25, 1365.45, 1365.55, 1365.35, 1365.45, 1365.55, 1365.35, 1365.45, 1365.25, 1365.55, 1365.45, 1365.35, 1365.55, 1365.45, 1365.35, 1365.45, 1365.55, 1365.35, 1365.45, 1365.55, 1365.45,
  1365.55, 1365.45, 1365.65, 1365.55, 1365.35, 1365.65, 1365.45, 1365.55, 1365.75, 1365.45, 1365.65, 1365.55, 1365.35, 1365.65, 1365.75, 1365.55,
  1365.85, 1365.65, 1365.95, 1365.75, 1366.05, 1365.85, 1365.65, 1365.95, 1365.75, 1366.05, 1365.85, 1366.15, 1365.75, 1365.95, 1366.05, 1365.85, 1366.15, 1365.95, 1366.05,
  null, null, null, null, null, null, null,
  1366.15, 1365.95, 1366.35, 1366.05, 1365.85, 1366.25, 1366.45, 1366.05, 1366.35, 1365.95, 1366.25, 1366.45, 1365.95, 1366.15, 1366.55, 1366.05, 1366.35, 1366.15, 1366.25,
  1366.35, 1366.05, 1366.55, 1366.25, 1366.45, 1365.95, 1366.65, 1366.25, 1366.45, 1366.15, 1366.75, 1366.35, 1366.05, 1366.55, 1366.25, 1366.65, 1366.45, 1366.35,
  1366.75, 1366.45, 1366.85, 1366.55, 1366.95, 1366.35, 1366.75, 1366.55, 1366.15, 1366.65, 1366.85, 1366.45, 1366.95, 1366.55, 1366.75, 1365.95, 1366.65, 1366.85, 1366.45, 1366.75, 1366.55, 1366.85, 1366.35, 1366.65, 1366.45, 1366.55,
  1366.25, 1366.45, 1365.85, 1366.35, 1366.15, 1366.45, 1366.25, 1366.55, 1366.05, 1366.35, 1366.25, 1366.45, 1366.55,
  1366.85, 1367.05, 1366.75, 1367.15, 1366.95, 1367.25, 1366.85, 1366.75, 1366.65, 1366.45,
  1366.35, 1366.55, 1366.45, 1366.65, 1366.25, 1366.55, 1366.35, 1366.65, 1366.45, 1366.15, 1366.55, 1366.35, 1366.45, 1366.65, 1366.25, 1366.45, 1366.55, 1366.35, 1366.65, 1366.45, 1366.25, 1366.55, 1366.35, 1366.45, 1366.35,
  1366.15, 1366.35, 1366.05, 1366.25, 1366.45, 1366.15, 1366.35, 1366.05, 1366.25, 1366.15, 1366.35, 1366.05, 1366.25, 1365.75, 1364.35, 1363.05, 1365.55, 1366.05, 1366.15, 1366.05,
  1366.05, 1366.15, 1365.85, 1366.05, 1365.95, 1365.55, 1366.05, 1365.85, 1365.95, 1366.15, 1365.75, 1366.05, 1365.85, 1365.95, 1366.05, 1365.75, 1365.95, 1365.35, 1365.85, 1365.95, 1366.05, 1365.75, 1365.85, 1365.95, 1365.75, 1365.85, 1365.95, 1365.75, 1365.85, 1365.75, 1365.85, null
];

const timStart = 2003.17, timStep = 0.04;
const tim = [
  1361.5, 1361.1, 1361.3, 1360.6, 1361.2, 1361.4, 1360.9, 1361.3, 1361.0, 1361.5, 1361.2, 1360.4, 1361.3, 1361.1, 1361.4, 1359.6, 1358.3, 1357.2, 1361.0, 1361.2, 1360.8,
  1361.1, 1360.8, 1361.2, 1360.9, 1361.0, 1360.3, 1361.1, 1360.7, 1361.0, 1360.9, 1361.2, 1359.8, 1360.8, 1361.0, 1360.7, 1361.1, 1360.9, 1360.4, 1361.0, 1360.8, 1360.6, 1361.1, 1359.4, 1360.9, 1360.7, 1361.0, 1360.8, 1360.9, 1360.6, 1360.9, 1360.7, 1360.8
];
const timMid = [
  1361.25, 1361.45, 1360.95, 1361.35, 1361.15, 1361.45, 1361.05, 1361.25, 1360.75, 1361.35, 1361.15, 1361.45, 1360.95, 1361.25, 1361.05, 1360.15, 1359.05, 1360.45, 1361.15, 1360.95, 1361.25,
  1360.95, 1361.15, 1360.85, 1361.05, 1360.65, 1361.05, 1360.85, 1361.15, 1360.75, 1361.05, 1360.85, 1360.55, 1361.05, 1360.85, 1360.95, 1361.15, 1360.75, 1360.95, 1361.05, 1360.35, 1360.95, 1360.85, 1361.05, 1360.75, 1360.95, 1360.85, 1360.65, 1360.95, 1360.75, 1360.85, 1360.95, 1360.75
];

// solar cycle bar along the top
const cycleEdges = [1978, 1986.73, 1996.23, 2005.3];
const cycleNames = ['Solar Cycle 21', 'Solar Cycle 22', 'Solar Cycle 23'];
const cycleCentres = [1982.65, 1991.51, 2001.77];
const cycleColors = ['#ff0000', '#0000ff', '#ff0000'];
const cycleLevel = 1375.0;
const cycleLabelLevel = 1375.25;

// instrument labels: [year, tsi, text, colour]
const instrumentLabels = [
  [1986.5, 1372.98, 'Nimbus7/ERB', '#0000ff'],
  [1986.5, 1368.49, 'SMM/ACRIM1', '#000000'],
  [1986.5, 1363.76, 'ERBS/ERBE', '#0000ff'],
  [1997.02, 1362.51, 'UARS/ACRIM2', '#000000'],
  [1997.0, 1366.9, 'SOHO/VIRGO', '#ff0000'],
  [2002.56, 1368.57, 'ACRIMSAT/ACRIM3', '#000000'],
  [2001.39, 1360.92, 'SORCE/TIM', '#ff0000']
];

const boxText = 'ACRIM-VIRGO\u2013TIM differences exceed their putative \u2018native scale\u2019 uncertainties';
const boxCorners = [[1978.33, 1358.96], [2003.61, 1357.74]];
const noteText = 'TSI reported on "native" scales of experiments';
const notePos = [1978.9, 1356.43];

// the ~0.4 % arrow right of the plot
const arrowYear = 2005.97, arrowTop = 1365.88, arrowBottom = 1360.9;

function pts(start, step, vals) {
  const out = [];
  vals.forEach((v, i) => {
    if (v !== null) out.push([Math.round((start + i * step) * 1000) / 1000, v]);
  });
  return out;
}

function dots(name, color, main, mid, start, step) {
  const data = pts(start, step, main);
  if (mid) data.push(...pts(start + step / 2, step, mid));
  return {
    name: name, type: 'scatter', data: data,
    symbol: 'circle', symbolSize: 3,
    itemStyle: { color: color, opacity: 1 },
    silent: true
  };
}

const font = 'Liberation Sans';
const chart = echarts.init(document.getElementById('chart'));

const series = [
  dots('Nimbus7/ERB', '#0000ff', nimbus, nimbusMid, nimbusStart, nimbusStep),
  dots('ERBS/ERBE', '#0000ff', erbs, null, erbsStart, erbsStep),
  dots('SMM/ACRIM1', '#000000', acrim1, acrim1Mid, acrim1Start, acrim1Step),
  dots('UARS/ACRIM2', '#000000', acrim2, acrim2Mid, acrim2Start, acrim2Step),
  dots('SOHO/VIRGO', '#ff0000', virgo, virgoMid, virgoStart, virgoStep),
  dots('ACRIMSAT/ACRIM3', '#000000', acrim3, acrim3Mid, acrim3Start, acrim3Step),
  dots('SORCE/TIM', '#ff0000', tim, timMid, timStart, timStep)
];

cycleNames.forEach((n, i) => {
  series.push({
    name: n, type: 'line', showSymbol: false, silent: true,
    data: [[cycleEdges[i], cycleLevel], [cycleEdges[i + 1], cycleLevel]],
    lineStyle: { color: cycleColors[i], width: 3 }
  });
});

const labelItems = instrumentLabels.map(l => ({
  value: [l[0], l[1]],
  label: { formatter: l[2], color: l[3], fontSize: 20 }
}));
cycleNames.forEach((n, i) => {
  labelItems.push({
    value: [cycleCentres[i], cycleLabelLevel],
    label: { formatter: n, color: cycleColors[i], fontSize: 20 }
  });
});
labelItems.push({
  value: notePos,
  label: { formatter: noteText, color: '#000', fontSize: 26, align: 'left' }
});

series.push({
  name: 'labels', type: 'scatter', silent: true,
  symbolSize: 1, itemStyle: { color: 'rgba(0,0,0,0)', opacity: 1 },
  data: labelItems,
  label: { show: true, position: 'inside', fontFamily: font, fontWeight: 'bold', opacity: 1 },
  markArea: {
    silent: true,
    itemStyle: { color: 'rgba(0,0,0,0)', borderColor: '#000', borderWidth: 2, opacity: 1 },
    label: {
      show: true, position: 'inside', color: '#000', offset: [0, 4],
      fontFamily: font, fontWeight: 'bold', fontSize: 26
    },
    data: [[{ coord: boxCorners[0], name: boxText }, { coord: boxCorners[1] }]]
  }
});

const axisLineStyle = { color: '#444', width: 1.5 };
const tickStyle = { color: '#444', width: 1.5 };
const plain = v => String(v);

chart.setOption({
  animation: false,
  backgroundColor: '#fff',
  grid: { left: 111, right: 140, top: 8, bottom: 72, containLabel: false },
  xAxis: [{
    type: 'value', min: 1978, max: 2005.5, position: 'bottom',
    axisLine: { show: true, onZero: false, lineStyle: axisLineStyle },
    axisTick: { show: true, inside: true, length: 8, customValues: yearTicks, lineStyle: tickStyle },
    axisLabel: { customValues: yearTicks, formatter: plain, fontSize: 24, color: '#111', fontFamily: font, margin: 14 },
    splitLine: { show: false },
    name: 'Year', nameLocation: 'middle', nameGap: 46,
    nameTextStyle: { fontSize: 24, fontWeight: 'bold', color: '#111', fontFamily: font }
  }, {
    type: 'value', min: 1978, max: 2005.5, position: 'top',
    axisLine: { show: true, onZero: false, lineStyle: axisLineStyle },
    axisTick: { show: true, inside: true, length: 8, customValues: yearTicks, lineStyle: tickStyle },
    axisLabel: { show: false },
    splitLine: { show: false }
  }],
  yAxis: [{
    type: 'value', min: 1356, max: 1375.5, position: 'left',
    axisLine: { show: true, onZero: false, lineStyle: axisLineStyle },
    axisTick: { show: true, inside: true, length: 8, customValues: tsiTicks, lineStyle: tickStyle },
    axisLabel: { customValues: tsiTicks, formatter: plain, fontSize: 24, color: '#111', fontFamily: font, margin: 11 },
    splitLine: { show: false },
    name: 'TSI @ 1 AU (w/m2)', nameLocation: 'middle', nameGap: 70,
    nameTextStyle: { fontSize: 26, fontWeight: 'bold', color: '#111', fontFamily: font }
  }, {
    type: 'value', min: 1356, max: 1375.5, position: 'right',
    axisLine: { show: true, onZero: false, lineStyle: axisLineStyle },
    axisTick: { show: true, inside: true, length: 8, customValues: tsiTicks, lineStyle: tickStyle },
    axisLabel: { show: false },
    splitLine: { show: false }
  }],
  series: series
});

// arrow and percentage note, placed from data coordinates
const pTop = chart.convertToPixel({ seriesIndex: 0 }, [arrowYear, arrowTop]);
const pBot = chart.convertToPixel({ seriesIndex: 0 }, [arrowYear, arrowBottom]);
const ax = pTop[0];
const head = 26, half = 12;
chart.setOption({
  graphic: [
    { type: 'rect', silent: true, shape: { x: ax - 3.5, y: pTop[1] + head - 2, width: 7, height: pBot[1] - pTop[1] - 2 * head + 4 }, style: { fill: '#000' } },
    { type: 'polygon', silent: true, shape: { points: [[ax, pTop[1]], [ax - half, pTop[1] + head], [ax + half, pTop[1] + head]] }, style: { fill: '#000' } },
    { type: 'polygon', silent: true, shape: { points: [[ax, pBot[1]], [ax - half, pBot[1] - head], [ax + half, pBot[1] - head]] }, style: { fill: '#000' } },
    { type: 'text', silent: true, x: ax + 6, y: (pTop[1] + pBot[1]) / 2,
      style: { text: '~ 0.4 %', fill: '#000', fontSize: 28, fontWeight: 'bold', fontFamily: font, align: 'left', verticalAlign: 'middle' } },
    { type: 'line', silent: true, shape: { x1: 1402, y1: 0, x2: 1402, y2: 1034 }, style: { stroke: '#999', lineWidth: 1 } }
  ]
});
</script>
</body>
</html>
